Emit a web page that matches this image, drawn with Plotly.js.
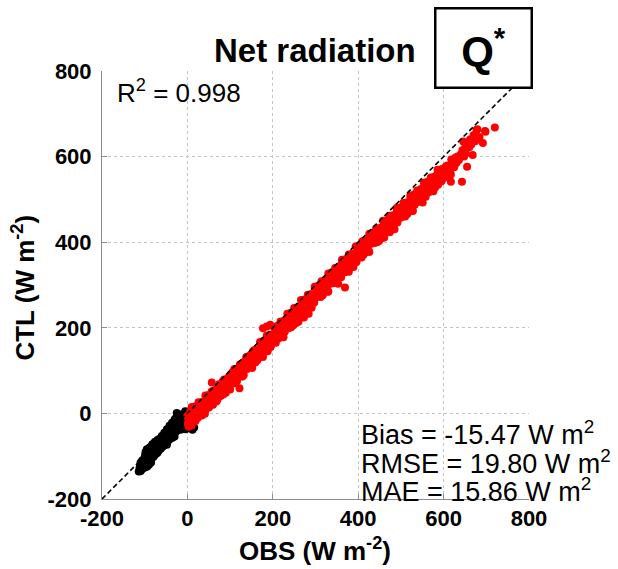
<!DOCTYPE html>
<html>
<head>
<meta charset="utf-8">
<script src="https://cdn.plot.ly/plotly-3.0.1.min.js"></script>
<style>html,body{margin:0;padding:0;background:#fff;}#chart{width:618px;height:569px;}</style>
</head>
<body>
<div id="chart"></div>
<script>
// ---- data ----
const tickVals = [-200, 0, 200, 400, 600, 800];
const refLine = [-200, 800];

// daytime (red) points: OBS vs CTL
const redObsA = [0,1,2,3,4,5,6,8,9,10,11,13,14,15,17,18,20,21,23,24,26,27,29,30,32,34,35,37,38,40,42,43,45,47,48,50,52,53,55,57,59,60,62,64,66,67,69,71,73,75,76,78,80,82,84,86,88,90,92,94,96,98,100,3,7,12,16,19,25,31,36,41,46,51,56,61,65,70,74,79,83,87,91,95,99];
const redCtlA = [-6,-25,-12,-31,-6,-15,-24,4,-7,-28,-1,-12,5,-14,-2,-15,13,-6,8,-11,15,6,-2,25,15,-5,22,12,28,10,22,9,37,19,32,14,40,31,23,51,41,20,48,37,55,36,48,36,64,46,59,41,67,59,51,79,68,48,76,66,84,66,78,-19,5,-21,-2,-18,17,3,22,-1,41,26,39,28,53,32,60,51,75,55,68,58,81];
const redObsB = [102,105,108,111,114,117,120,123,126,129,132,135,138,141,144,147,150,153,156,159,162,165,168,171,174,177,180,183,186,189,192,195,198,201,204,207,210,213,216,219,222,225,228,231,234,237,240,243,246,249,252,255,258,261,264,267,270,273,276,279,282,285,288,291,294,297,300,104,110,116,122,128,134,140,146,152,158,164,170,176,182,188,194,200,206,212,218,224,230,236,242,248,254,260,266,272,278,284,290,296];
const redCtlB = [92,75,90,73,99,92,85,114,105,86,115,106,125,107,120,109,138,121,136,119,146,138,131,160,151,132,161,152,171,153,166,155,184,167,182,165,192,184,177,206,197,178,207,198,217,199,212,201,230,213,228,211,238,231,223,252,243,224,253,244,263,246,258,247,276,259,274,78,104,79,100,87,122,107,127,106,149,134,148,138,166,145,175,167,193,175,190,182,207,205,230,206,227,214,248,234,254,233,275,261];
const redObsC = [303,306,309,312,315,318,321,324,327,330,333,336,339,342,345,348,351,354,357,360,363,366,369,372,375,378,381,384,387,390,393,396,399,402,405,408,411,414,417,420,423,426,429,432,435,438,441,444,447,450,453,456,459,462,465,468,471,474,477,480,483,486,489,492,495,498,305,311,317,323,329,335,341,347,353,359,365,371,377,383,389,395,401,407,413,419,425,431,437,443,449,455,461,467,473,479,485,491,497];
const redCtlC = [291,274,289,272,298,291,284,313,304,285,314,305,323,306,319,308,337,320,335,318,344,337,330,359,350,331,360,351,370,352,365,354,383,366,381,364,391,383,376,405,396,377,406,397,416,398,411,400,429,412,427,410,437,430,422,451,442,423,452,443,462,445,457,446,475,458,275,301,276,297,284,319,304,324,303,346,331,345,335,363,342,372,364,390,371,387,379,404,402,427,403,424,411,445,431,451,430,472,458];
const redObsD = [501,504,507,510,513,516,519,522,525,528,531,534,537,540,543,546,549,552,555,558,561,564,567,570,573,576,579,582,585,588,591,594,597,600,603,606,609,612,615,618,503,509,515,521,527,533,539,545,551,557,563,569,575,581,587,593,599,605,611,617];
const redCtlD = [479,462,477,460,486,479,472,501,492,473,502,493,512,494,507,496,525,508,523,506,533,525,518,547,538,519,548,539,558,540,553,542,571,554,569,552,579,572,564,593,465,489,466,486,474,508,495,513,493,533,520,534,526,552,534,561,551,577,571,558];
const redObsE = [622,625,628,630,633,636,617,643,646,640,644,648,650,652,655,656,660,662,668,670,677,679,682,684,692,697,698,720,665,674,57,122,177,194,369,186];
const redCtlE = [590,575,598,585,600,592,541,541,635,605,615,600,620,608,576,630,622,640,604,650,662,664,646,645,632,660,658,668,628,636,72,59,199,207,294,203];
// upper edge of the red band (hugging the 1:1 line)
const redObsU = [10,18,26,34,42,50,58,66,74,82,90,98,106,114,122,130,138,146,154,162,170,178,186,194,202,210,218,226,234,242,250,258,266,274,282,290,298,306,314,322,330,338,346,354,362,370,378,386,394,402,410,418,426,434,442,450,458,466,474,482,490,498,506,514,522,530,538,546,554,562,570,578,586,594];
const redCtlU = [15,16,26,26,42,43,52,53,68,69,79,79,97,99,111,114,132,135,146,149,167,170,182,184,202,204,215,216,233,235,246,248,265,266,277,279,296,298,309,310,327,329,340,342,359,360,371,373,390,392,402,404,420,422,432,433,450,451,462,463,480,481,492,493,509,511,521,523,539,541,551,553,569,570];
// lower edge of the red band
const redObsL = [4,12,20,28,36,44,52,60,68,76,84,92,100,108,116,124,132,140,148,156,164,172,180,188,196,204,212,220,228,236,244,252,260,268,276,284,292,300,308,316,324,332,340,348,356,364,372,380,388,396,404,412,420,428,436,444,452,460,468,476,484,492,500,508,516,524,532,540,548,556,564,572,580,588,596];
const redCtlL = [-28,-16,-12,1,0,12,16,29,28,40,44,57,56,70,75,90,90,104,109,124,124,138,144,158,159,172,177,191,191,205,210,224,224,237,242,256,256,270,275,289,289,302,307,321,321,334,340,354,354,367,372,385,384,396,400,414,413,425,429,442,442,454,458,471,470,483,487,500,499,511,516,529,528,540,544];

// night-time (black) points
const blackObs = [-114,-112,-110,-108,-106,-104,-102,-100,-98,-96,-94,-92,-90,-88,-86,-84,-82,-80,-78,-76,-74,-72,-70,-68,-66,-64,-62,-60,-58,-56,-54,-52,-50,-48,-46,-44,-42,-40,-38,-36,-34,-32,-30,-28,-26,-24,-22,-20,-18,-16,-14,-12,-10,-8,-6,-4,-2,0,2,4,6,8,
  -103,-99,-95,-91,-87,-83,-79,-75,-71,-67,-63,-59,-55,-51,-47,-43,-39,-35,-31,-27,-23,-19,-15,-11,-7,-3,1,5,
  -25,-5,-12,12,16,10,-80,-60,-40];
const blackCtl = [-136,-127,-116,-132,-110,-124,-114,-122,-98,-114,-88,-116,-101,-111,-93,-105,-81,-97,-99,-79,-94,-81,-92,-66,-72,-82,-76,-78,-60,-76,-50,-68,-63,-73,-55,-62,-43,-59,-55,-41,-52,-43,-54,-28,-34,-40,-38,-36,-22,-38,-12,-28,-25,-35,-17,-37,-5,-21,-29,-3,-31,-5,
  -117,-97,-120,-98,-106,-76,-100,-87,-73,-86,-82,-57,-72,-58,-66,-55,-41,-57,-47,-42,-30,-34,-14,-30,-35,-8,-22,-11,
  1,5,-2,-38,-33,-30,-100,-78,-56];
const blackObsU = [-108,-102,-96,-90,-84,-78,-72,-66,-60,-54,-48,-42,-36,-30,-26,-98,-95,-92,-89,-86,-82,-100,-76,-70];
const blackCtlU = [-114,-107,-99,-91,-83,-76,-68,-60,-53,-45,-37,-29,-22,-14,-9,-90,-84,-86,-80,-78,-72,-104,-66,-62];
const blackObsL = [-110,-104,-98,-92,-86,-80,-74,-68,-62,-56,-50,-44,-38,-32,-26,-20,-14,-8,-2,4,10,-98,-94,-90,-85];
const blackCtlL = [-135,-129,-122,-115,-109,-102,-95,-88,-82,-75,-68,-62,-55,-48,-41,-35,-28,-28,-32,-34,-36,-126,-124,-120,-115];

const redObs = [].concat(redObsA, redObsB, redObsC, redObsD, redObsE, redObsU, redObsL);
const redCtl = [].concat(redCtlA, redCtlB, redCtlC, redCtlD, redCtlE, redCtlU, redCtlL);
const nightObs = [].concat(blackObs, blackObsU, blackObsL);
const nightCtl = [].concat(blackCtl, blackCtlU, blackCtlL);

// ---- figure ----
const FONT = '"Liberation Sans", Arial, Helvetica, sans-serif';
const traces = [
  {x: nightObs, y: nightCtl, type: 'scatter', mode: 'markers',
   marker: {color: '#000000', size: 8, line: {width: 0}}, hoverinfo: 'skip', cliponaxis: false},
  {x: redObs, y: redCtl, type: 'scatter', mode: 'markers',
   marker: {color: '#ff0000', size: 8, line: {width: 0}}, hoverinfo: 'skip', cliponaxis: false},
  {x: refLine, y: refLine, type: 'scatter', mode: 'lines',
   line: {color: '#000000', width: 1.6, dash: '5px,3px'}, hoverinfo: 'skip'}
];

const axisCommon = {
  range: [-200, 800], tickvals: tickVals, ticktext: tickVals.map(String),
  showline: true, linecolor: '#8c8c8c', linewidth: 1,
  ticks: 'inside', ticklen: 5, tickcolor: '#8c8c8c', tickwidth: 1,
  showgrid: true, gridcolor: '#c4c4c4', griddash: 'dot', gridwidth: 1,
  zeroline: false, fixedrange: true,
  tickfont: {family: FONT, size: 22, color: '#000', weight: 'bold'}
};

const layout = {
  width: 618, height: 569,
  margin: {l: 102, r: 89, t: 71, b: 70, pad: 0},
  paper_bgcolor: '#ffffff', plot_bgcolor: '#ffffff',
  showlegend: false,
  xaxis: Object.assign({}, axisCommon, {ticklabelstandoff: 0}),
  yaxis: Object.assign({}, axisCommon, {ticklabelstandoff: 5}),
  annotations: [
    {xref: 'paper', yref: 'paper', x: 0.499, y: 1.049, xanchor: 'center', yanchor: 'middle',
     text: 'Net radiation', showarrow: false,
     font: {family: FONT, size: 33, color: '#000', weight: 'bold'}},
    {xref: 'paper', yref: 'paper', x: 0.894, y: 1.053, xanchor: 'center', yanchor: 'middle',
     text: 'Q<sup>*</sup>', showarrow: false, width: 92, height: 75,
     bgcolor: '#ffffff', bordercolor: '#000000', borderwidth: 2.5, borderpad: 1,
     font: {family: FONT, size: 42, color: '#000', weight: 'bold'}},
    {xref: 'x', yref: 'y', x: -169, y: 753, xanchor: 'left', yanchor: 'middle',
     text: 'R<sup>2</sup> = 0.998', showarrow: false,
     font: {family: FONT, size: 26, color: '#000'}},
    {xref: 'x', yref: 'y', x: 402, y: -45, xanchor: 'left', yanchor: 'middle',
     text: 'Bias = -15.47 W m<sup>2</sup>', showarrow: false,
     font: {family: FONT, size: 27, color: '#000'}},
    {xref: 'x', yref: 'y', x: 402, y: -113, xanchor: 'left', yanchor: 'middle',
     text: 'RMSE = 19.80 W m<sup>2</sup>', showarrow: false,
     font: {family: FONT, size: 27, color: '#000'}},
    {xref: 'x', yref: 'y', x: 402, y: -178, xanchor: 'left', yanchor: 'middle',
     text: 'MAE = 15.86 W m<sup>2</sup>', showarrow: false,
     font: {family: FONT, size: 27, color: '#000'}},
    {xref: 'paper', yref: 'paper', x: 0.499, y: -0.117, xanchor: 'center', yanchor: 'middle',
     text: 'OBS (W m<sup>-2</sup>)', showarrow: false,
     font: {family: FONT, size: 26, color: '#000', weight: 'bold'}},
    {xref: 'paper', yref: 'paper', x: -0.184, y: 0.495, xanchor: 'center', yanchor: 'middle',
     text: 'CTL (W m<sup>-2</sup>)', showarrow: false, textangle: -90,
     font: {family: FONT, size: 26, color: '#000', weight: 'bold'}}
  ]
};

Plotly.newPlot('chart', traces, layout, {displayModeBar: false, staticPlot: true});
</script>
</body>
</html>
